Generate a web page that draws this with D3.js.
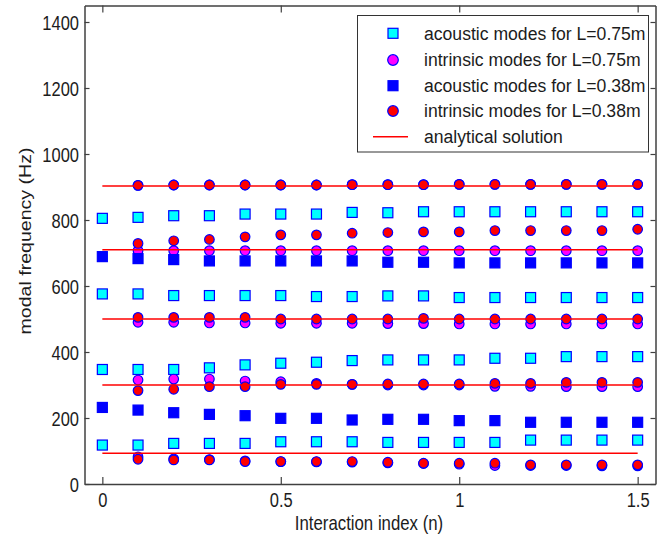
<!DOCTYPE html>
<html>
<head>
<meta charset="utf-8">
<script src="https://cdn.jsdelivr.net/npm/d3@7"></script>
<style>
  body { margin: 0; background: #ffffff; }
  svg { display: block; font-family: "Liberation Sans", Arial, sans-serif; }
</style>
</head>
<body>
<svg id="chart" width="659" height="534"></svg>
<script>
// Interaction index values
const nAll = [0, 0.1, 0.2, 0.3, 0.4, 0.5, 0.6, 0.7, 0.8, 0.9, 1.0, 1.1, 1.2, 1.3, 1.4, 1.5];
const nIntr = [0.1, 0.2, 0.3, 0.4, 0.5, 0.6, 0.7, 0.8, 0.9, 1.0, 1.1, 1.2, 1.3, 1.4, 1.5];

// Acoustic modes, L = 0.75 m (Hz)
const acoustic075_1 = [118, 118, 123, 123, 123, 128, 128, 128, 126, 126, 126, 126, 133, 133, 133, 133];
const acoustic075_2 = [347, 347, 347, 352, 361, 366, 369, 374, 376, 376, 376, 381, 381, 386, 386, 386];
const acoustic075_3 = [576, 576, 571, 571, 571, 571, 568, 568, 570, 570, 565, 565, 565, 565, 565, 565];
const acoustic075_4 = [805, 808, 813, 813, 818, 818, 818, 823, 822, 825, 825, 825, 825, 825, 825, 825];

// Intrinsic modes, L = 0.75 m (Hz)
const intrinsic075_1 = [82, 76, 74, 70, 68, 67, 66, 64, 62, 60, 56, 56, 56, 55, 55];
const intrinsic075_2 = [315, 318, 318, 312, 310, 305, 302, 300, 300, 300, 296, 296, 295, 295, 295];
const intrinsic075_3 = [490, 490, 488, 488, 487, 487, 487, 486, 486, 485, 485, 485, 485, 485, 485];
const intrinsic075_4 = [707, 707, 707, 707, 707, 707, 707, 707, 707, 707, 707, 707, 707, 707, 707];
const intrinsic075_5 = [905, 906, 906, 906, 906, 906, 907, 907, 907, 908, 908, 908, 908, 908, 908];

// Acoustic modes, L = 0.38 m (Hz)
const acoustic038_1 = [232, 224, 216, 211, 207, 199, 199, 194, 196, 196, 192, 192, 187, 187, 187, 187];
const acoustic038_2 = [689, 683, 680, 676, 676, 676, 676, 676, 672, 672, 670, 670, 670, 670, 670, 670];

// Intrinsic modes, L = 0.38 m (Hz)
const intrinsic038_1 = [75, 73, 73, 68, 68, 68, 68, 66, 63, 63, 63, 58, 58, 58, 58];
const intrinsic038_2 = [283, 287, 295, 295, 302, 302, 302, 303, 303, 303, 305, 305, 308, 308, 308];
const intrinsic038_3 = [505, 505, 505, 505, 500, 500, 500, 500, 502, 500, 500, 500, 500, 500, 500];
const intrinsic038_4 = [729, 737, 741, 749, 755, 755, 760, 762, 764, 764, 768, 768, 768, 768, 772];
const intrinsic038_5 = [905, 906, 906, 906, 906, 906, 907, 907, 907, 908, 908, 908, 908, 908, 908];

// Analytical solution levels (Hz), drawn across the index range
const analytical = [93, 300, 500, 710, 903];
const analyticalRange = [0, 1.5];

// Axis ticks
const xTicks = [0, 0.5, 1, 1.5];
const yTicks = [0, 200, 400, 600, 800, 1000, 1200, 1400];

const legendLabels = [
  "acoustic modes for L=0.75m",
  "intrinsic modes for L=0.75m",
  "acoustic modes for L=0.38m",
  "intrinsic modes for L=0.38m",
  "analytical solution"
];

const svg = d3.select("#chart");
const box = { left: 84.5, right: 655.5, top: 5.5, bottom: 484 };

const x = d3.scaleLinear().domain([-0.05, 1.55]).range([box.left, box.right]);
const y = d3.scaleLinear().domain([0, 1450]).range([box.bottom, box.top]);

const axisColor = "#404040";
const textColor = "#1c1c1c";
const stretch = 1.2;

// Markers
const sq = 10;   // square side
const cr = 4.8;  // circle radius
const edge = "#0000ff";

function squares(values, xs, fill) {
  svg.append("g").selectAll("rect")
    .data(values.map((v, i) => [xs[i], v]))
    .join("rect")
    .attr("x", d => x(d[0]) - sq / 2)
    .attr("y", d => y(d[1]) - sq / 2)
    .attr("width", sq).attr("height", sq)
    .attr("fill", fill).attr("stroke", edge).attr("stroke-width", 1.2);
}
function circles(values, xs, fill) {
  svg.append("g").selectAll("circle")
    .data(values.map((v, i) => [xs[i], v]))
    .join("circle")
    .attr("cx", d => x(d[0]))
    .attr("cy", d => y(d[1]))
    .attr("r", cr)
    .attr("fill", fill).attr("stroke", edge).attr("stroke-width", 1.2);
}

[acoustic075_1, acoustic075_2, acoustic075_3, acoustic075_4].forEach(s => squares(s, nAll, "#00ffff"));
[intrinsic075_1, intrinsic075_2, intrinsic075_3, intrinsic075_4, intrinsic075_5].forEach(s => circles(s, nIntr, "#ff00ff"));
[acoustic038_1, acoustic038_2].forEach(s => squares(s, nAll, "#0000ff"));
[intrinsic038_1, intrinsic038_2, intrinsic038_3, intrinsic038_4, intrinsic038_5].forEach(s => circles(s, nIntr, "#ff0000"));

// Analytical solution lines
svg.append("g").selectAll("line")
  .data(analytical)
  .join("line")
  .attr("x1", x(analyticalRange[0])).attr("x2", x(analyticalRange[1]))
  .attr("y1", d => y(d)).attr("y2", d => y(d))
  .attr("stroke", "#ff0000").attr("stroke-width", 1.5);

// Axes (ticks pointing inward, box on all four sides)
function styleAxis(g) {
  g.select(".domain").attr("stroke", axisColor).attr("stroke-width", 1.5);
  g.selectAll(".tick line").attr("stroke", axisColor).attr("stroke-width", 1.2);
}

const gx = svg.append("g")
  .attr("transform", `translate(0,${box.bottom})`)
  .call(d3.axisBottom(x).tickValues(xTicks).tickFormat(d3.format("")).tickSizeInner(-7).tickSizeOuter(0))
  .call(styleAxis);
gx.selectAll(".tick text")
  .attr("y", 0).attr("dy", "0.716em")
  .attr("transform", `translate(0,8.5) scale(1,${stretch})`)
  .attr("font-size", 16.5).attr("font-family", "Liberation Sans, Arial, sans-serif")
  .attr("fill", textColor);

const gy = svg.append("g")
  .attr("transform", `translate(${box.left},0)`)
  .call(d3.axisLeft(y).tickValues(yTicks).tickFormat(d3.format("")).tickSizeInner(-5).tickSizeOuter(0))
  .call(styleAxis);
gy.selectAll(".tick text")
  .attr("x", 0).attr("dy", "0.358em")
  .attr("transform", `translate(-5.5,0) scale(1,${stretch})`)
  .attr("font-size", 16.5).attr("font-family", "Liberation Sans, Arial, sans-serif")
  .attr("fill", textColor);

svg.append("g")
  .attr("transform", `translate(0,${box.top})`)
  .call(d3.axisTop(x).tickValues(xTicks).tickFormat("").tickSizeInner(-7).tickSizeOuter(0))
  .call(styleAxis);
svg.append("g")
  .attr("transform", `translate(${box.right},0)`)
  .call(d3.axisRight(y).tickValues(yTicks).tickFormat("").tickSizeInner(-5).tickSizeOuter(0))
  .call(styleAxis);

// Axis titles
svg.append("text")
  .attr("transform", `translate(369,530) scale(1,${stretch})`)
  .attr("text-anchor", "middle")
  .attr("font-size", 16.8).attr("fill", textColor)
  .text("Interaction index (n)");
svg.append("text")
  .attr("transform", `translate(31,241) scale(1,${stretch}) rotate(-90)`)
  .attr("text-anchor", "middle")
  .attr("font-size", 16.3).attr("fill", textColor)
  .text("modal frequency (Hz)");

// Legend
const lg = svg.append("g");
lg.append("rect")
  .attr("x", 357.5).attr("y", 15.5).attr("width", 291).attr("height", 136.5)
  .attr("fill", "#ffffff").attr("stroke", "#333333").attr("stroke-width", 1);
const rowY = [33.3, 60, 85.7, 111, 136.7];
const mx = 393;
lg.append("rect").attr("x", mx - sq / 2).attr("y", rowY[0] - sq / 2).attr("width", sq).attr("height", sq)
  .attr("fill", "#00ffff").attr("stroke", edge).attr("stroke-width", 1.2);
lg.append("circle").attr("cx", mx).attr("cy", rowY[1]).attr("r", cr + 0.5)
  .attr("fill", "#ff00ff").attr("stroke", edge).attr("stroke-width", 1.2);
lg.append("rect").attr("x", mx - sq / 2).attr("y", rowY[2] - sq / 2).attr("width", sq).attr("height", sq)
  .attr("fill", "#0000ff").attr("stroke", edge).attr("stroke-width", 1.2);
lg.append("circle").attr("cx", mx).attr("cy", rowY[3]).attr("r", cr + 0.5)
  .attr("fill", "#ff0000").attr("stroke", edge).attr("stroke-width", 1.2);
lg.append("line").attr("x1", 373).attr("x2", 408).attr("y1", rowY[4]).attr("y2", rowY[4])
  .attr("stroke", "#ff0000").attr("stroke-width", 1.5);
lg.selectAll("text.lab")
  .data(legendLabels)
  .join("text")
  .attr("class", "lab")
  .attr("x", 424)
  .attr("y", (d, i) => rowY[i])
  .attr("dy", "0.36em")
  .attr("font-size", 17.6)
  .attr("fill", textColor)
  .text(d => d);
</script>
</body>
</html>
